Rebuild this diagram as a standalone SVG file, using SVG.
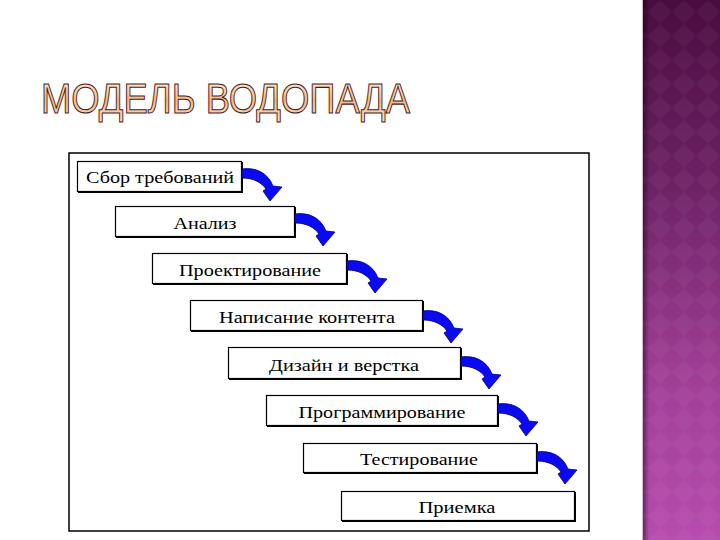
<svg xmlns="http://www.w3.org/2000/svg" width="720" height="540" viewBox="0 0 720 540">
  <defs>
    <linearGradient id="barGrad" x1="0" y1="0" x2="0" y2="1">
      <stop offset="0" stop-color="#4a0c40"/>
      <stop offset="0.35" stop-color="#6e2266"/>
      <stop offset="0.7" stop-color="#a03e96"/>
      <stop offset="1" stop-color="#b64cae"/>
    </linearGradient>
    <linearGradient id="shadowGrad" x1="0" y1="0" x2="1" y2="0">
      <stop offset="0" stop-color="#000" stop-opacity="0.45"/>
      <stop offset="1" stop-color="#000" stop-opacity="0"/>
    </linearGradient>
    <pattern id="diamonds" width="24" height="24" patternUnits="userSpaceOnUse">
      <path d="M12,0 L24,12 L12,24 L0,12 Z" fill="#ffffff" fill-opacity="0.04"/>
    </pattern>
    <linearGradient id="titleGrad" x1="0" y1="0" x2="0" y2="1">
      <stop offset="0" stop-color="#fff3ea"/>
      <stop offset="0.55" stop-color="#f6bb82"/>
      <stop offset="1" stop-color="#fbdcd0"/>
    </linearGradient>
    <path id="arrow" d="M0,11 C14,9 26,15 31,28 L40,29 L28,43 L21,33 L24,31 C20,25 12,20 0,20 Z"/>
    <style>
      .box { fill: #ffffff; stroke: #000000; stroke-width: 1.2; }
      .shade { fill: none; stroke: #000000; stroke-width: 2; }
      .lbl { font-family: "Liberation Serif", "Times New Roman", serif; font-size: 16px; fill: #000000; text-anchor: middle; }
      .arr { fill: #0a0af2; stroke: #00007a; stroke-width: 0.8; }
      .title { font-family: "Liberation Sans", Arial, sans-serif; font-size: 36px; fill: url(#titleGrad); stroke: #4a1a1a; stroke-width: 0.9; }
    </style>
  </defs>

  <rect x="0" y="0" width="720" height="540" fill="#ffffff"/>

  <!-- right decorative bar -->
  <g id="sidebar">
    <rect x="642" y="0" width="78" height="540" fill="url(#barGrad)"/>
    <rect x="642" y="0" width="78" height="540" fill="url(#diamonds)"/>
    <rect x="643" y="0" width="6" height="540" fill="url(#shadowGrad)"/>
    <line x1="642.5" y1="0" x2="642.5" y2="540" stroke="#d8b8d4" stroke-width="1"/>
  </g>

  <!-- title -->
  <g id="title">
    <text class="title" transform="translate(41,113) scale(1,1.16)" x="0" y="0" textLength="369" lengthAdjust="spacingAndGlyphs">МОДЕЛЬ ВОДОПАДА</text>
  </g>

  <!-- frame -->
  <g id="frame">
    <rect x="69" y="153" width="520" height="378" fill="#ffffff" stroke="#000000" stroke-width="1.5"/>
  </g>

  <g id="n1">
    <rect class="box" x="77.5" y="161.5" width="164" height="30"/>
    <path class="shade" d="M242,162 V192 H78"/>
    <text class="lbl" x="160" y="183" textLength="148" lengthAdjust="spacingAndGlyphs">Сбор требований</text>
  </g>
  <g id="n2">
    <rect class="box" x="115.5" y="206.5" width="179" height="30"/>
    <path class="shade" d="M295,207 V237 H116"/>
    <text class="lbl" x="205" y="229" textLength="63" lengthAdjust="spacingAndGlyphs">Анализ</text>
  </g>
  <g id="n3">
    <rect class="box" x="152.5" y="253.5" width="194" height="30"/>
    <path class="shade" d="M347,254 V284 H153"/>
    <text class="lbl" x="250" y="276" textLength="142" lengthAdjust="spacingAndGlyphs">Проектирование</text>
  </g>
  <g id="n4">
    <rect class="box" x="190.5" y="300.5" width="232" height="30"/>
    <path class="shade" d="M423,301 V331 H191"/>
    <text class="lbl" x="307" y="323" textLength="176" lengthAdjust="spacingAndGlyphs">Написание контента</text>
  </g>
  <g id="n5">
    <rect class="box" x="228.5" y="347.5" width="232" height="31"/>
    <path class="shade" d="M461,348 V379 H229"/>
    <text class="lbl" x="344" y="371" textLength="150" lengthAdjust="spacingAndGlyphs">Дизайн и верстка</text>
  </g>
  <g id="n6">
    <rect class="box" x="266.5" y="395.5" width="231" height="30"/>
    <path class="shade" d="M498,396 V426 H267"/>
    <text class="lbl" x="382" y="418" textLength="167" lengthAdjust="spacingAndGlyphs">Программирование</text>
  </g>
  <g id="n7">
    <rect class="box" x="303.5" y="443.5" width="233" height="29"/>
    <path class="shade" d="M537,444 V473 H304"/>
    <text class="lbl" x="419" y="465" textLength="118" lengthAdjust="spacingAndGlyphs">Тестирование</text>
  </g>
  <g id="n8">
    <rect class="box" x="341.5" y="491.5" width="233" height="29"/>
    <path class="shade" d="M575,492 V521 H342"/>
    <text class="lbl" x="457" y="513" textLength="77" lengthAdjust="spacingAndGlyphs">Приемка</text>
  </g>

  <g id="connectors">
    <use href="#arrow" class="arr" transform="translate(242,158)"/>
    <use href="#arrow" class="arr" transform="translate(295,203)"/>
    <use href="#arrow" class="arr" transform="translate(347,250)"/>
    <use href="#arrow" class="arr" transform="translate(423,300)"/>
    <use href="#arrow" class="arr" transform="translate(461,346)"/>
    <use href="#arrow" class="arr" transform="translate(498,393)"/>
    <use href="#arrow" class="arr" transform="translate(537,441)"/>
  </g>
</svg>
